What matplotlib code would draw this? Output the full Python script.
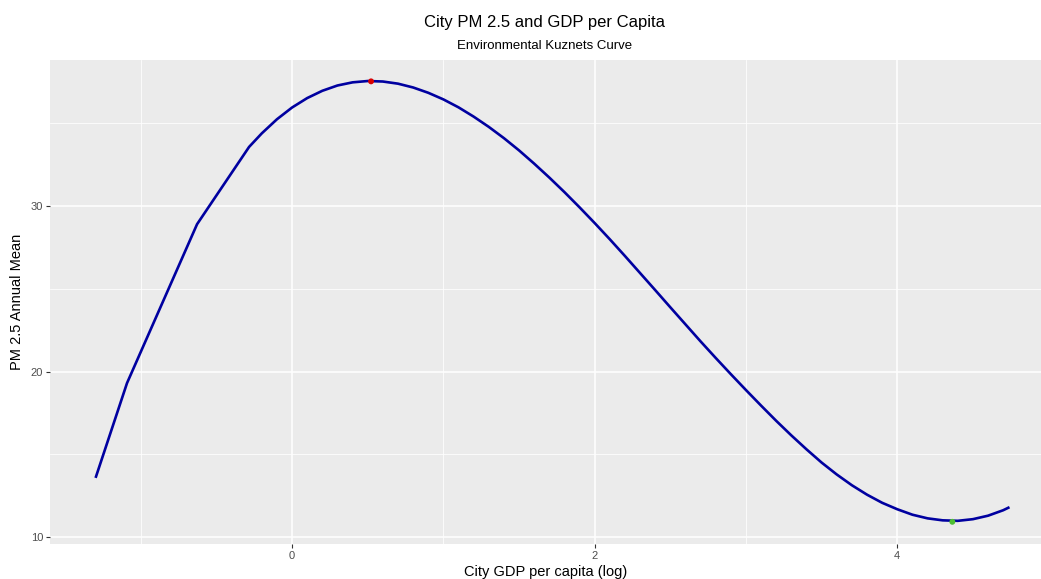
import numpy as np
import matplotlib
matplotlib.use("Agg")
import matplotlib.pyplot as plt

# fitted curve
gdp_log = [-1.296, -1.091, -0.628, -0.284, -0.2, -0.1, 0.0, 0.1, 0.2, 0.3,
           0.4, 0.5, 0.6, 0.7, 0.8, 0.9, 1.0, 1.1, 1.2, 1.3,
           1.4, 1.5, 1.6, 1.7, 1.8, 1.9, 2.0, 2.1, 2.2, 2.3,
           2.4, 2.5, 2.6, 2.7, 2.8, 2.9, 3.0, 3.1, 3.2, 3.3,
           3.4, 3.5, 3.6, 3.7, 3.8, 3.9, 4.0, 4.1, 4.2, 4.3,
           4.4, 4.5, 4.6, 4.7, 4.734]
pm25 = [13.65, 19.3, 28.9, 33.57, 34.39, 35.24, 35.95, 36.52, 36.96, 37.28,
        37.47, 37.55, 37.52, 37.39, 37.16, 36.84, 36.44, 35.96, 35.4, 34.78,
        34.1, 33.36, 32.56, 31.72, 30.84, 29.92, 28.97, 27.99, 26.98, 25.95,
        24.92, 23.88, 22.85, 21.82, 20.82, 19.84, 18.88, 17.94, 17.02, 16.14,
        15.3, 14.5, 13.78, 13.13, 12.56, 12.07, 11.68, 11.35, 11.13, 11.01,
        10.98, 11.08, 11.29, 11.62, 11.77]

turn_x = [0.522, 4.364]
turn_y = [37.53, 10.92]
turn_col = ["#D90000", "#4DBE33"]

plt.rcParams['font.family'] = ['Liberation Sans', 'DejaVu Sans']

fig = plt.figure(figsize=(10.41, 5.79), dpi=100)
ax = fig.add_axes([50 / 1041, 1 - 544 / 579, 1 - 50 / 1041, 484 / 579])
ax.set_facecolor("#EBEBEB")

ax.plot(gdp_log, pm25, color="#0000A0", lw=1.9, zorder=3,
        solid_joinstyle="round")
ax.scatter(turn_x, turn_y, c=turn_col, s=18, zorder=4, linewidths=0)

ax.set_xlim(-1.6, 4.95)
ax.set_ylim(9.58, 38.82)
ax.set_xticks([0, 2, 4])
ax.set_yticks([10, 20, 30])
ax.set_xticks([-1, 1, 3], minor=True)
ax.set_yticks([15, 25, 35], minor=True)
ax.grid(which="major", color="white", lw=1.1)
ax.grid(which="minor", color="white", lw=0.55)
ax.set_axisbelow(True)
for s in ax.spines.values():
    s.set_visible(False)
ax.tick_params(which="major", length=3, width=0.8, color="#333333",
               labelcolor="#4D4D4D", labelsize=8, pad=2)
ax.tick_params(which="minor", length=0)

ax.set_xlabel("City GDP per capita (log)", fontsize=10.5, labelpad=3)
ax.set_ylabel("PM 2.5 Annual Mean", fontsize=10.5, labelpad=5)

fig.text(0.5235, 1 - 22 / 579, "City PM 2.5 and GDP per Capita", ha="center",
         va="center", fontsize=12)
fig.text(0.5235, 1 - 46 / 579, "Environmental Kuznets Curve", ha="center",
         va="center", fontsize=9.5)

fig.savefig("out.png", dpi=100)
